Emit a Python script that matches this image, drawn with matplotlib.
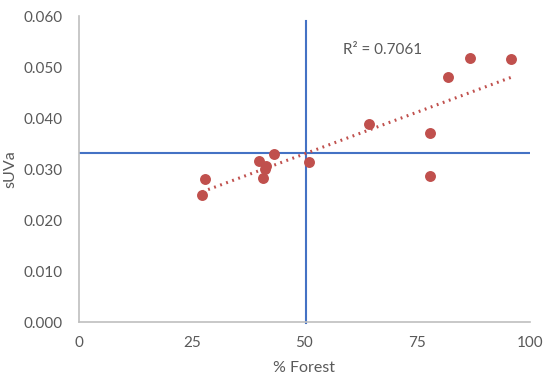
import numpy as np
import matplotlib.pyplot as plt
from matplotlib.ticker import FormatStrFormatter

plt.rcParams['font.family'] = ['Lato', 'DejaVu Sans']

# % forest vs sUVa
forest = [27.3, 27.9, 39.9, 41.5, 41.2, 40.8, 43.2, 51.0, 64.3, 77.9, 77.9, 81.9, 86.7, 95.9]
suva = [0.0249, 0.0280, 0.0316, 0.0306, 0.0300, 0.0282, 0.0329, 0.0314, 0.0388,
        0.0371, 0.0287, 0.0480, 0.0518, 0.0515]

# reference lines (means)
x_ref = 50.3
y_ref = 0.0331
r2_label = "R² = 0.7061"

grey = "#595959"
red = "#C0504D"
blue = "#4472C4"

fig = plt.figure(figsize=(5.5, 3.82), dpi=100)
ax = fig.add_axes([0.1436, 0.157, 0.82, 0.801])

# linear trendline through the points
fx = np.array(forest)
fy = np.array(suva)
slope, icpt = np.polyfit(fx, fy, 1)
xs = np.array([fx.min(), fx.max()])
ax.plot(xs, slope * xs + icpt, color=red, lw=2.2, ls=(0, (0.6, 1.5)), zorder=2)

ax.scatter(forest, suva, s=62, color=red, zorder=3, linewidths=0)

ax.axhline(y_ref, color=blue, lw=1.5, zorder=1)
ax.plot([x_ref, x_ref], [-0.0002, 0.059], color=blue, lw=1.5, zorder=1, clip_on=False)

ax.text(58.5, 0.0533, r2_label, color=grey, fontsize=11, va='center')

ax.set_xlim(0, 100)
ax.set_ylim(0, 0.06)
ax.set_xticks([0, 25, 50, 75, 100])
ax.set_yticks(np.arange(0, 0.061, 0.01))
ax.yaxis.set_major_formatter(FormatStrFormatter('%.3f'))
ax.tick_params(length=0, labelsize=11, colors=grey, pad=12)
ax.tick_params(axis='x', pad=10)

for s in ['top', 'right']:
    ax.spines[s].set_visible(False)
for s in ['left', 'bottom']:
    ax.spines[s].set_color('#BFBFBF')
    ax.spines[s].set_linewidth(1.2)

ax.set_xlabel("% Forest", fontsize=11.5, color=grey, labelpad=8)
ax.set_ylabel("sUVa", fontsize=11.5, color=grey, labelpad=4)

fig.savefig("out.png", dpi=100)
